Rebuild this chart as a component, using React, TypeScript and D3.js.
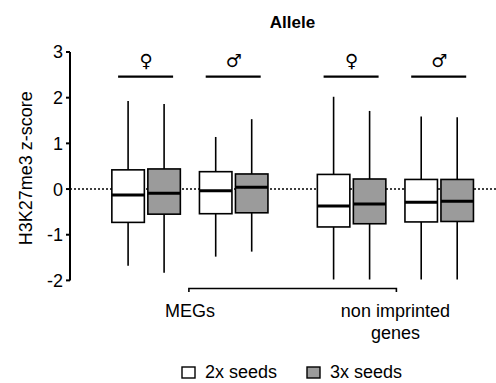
import React from "react";
import * as d3 from "d3";

const clusters = ["MEGs", "non imprinted genes"];
const alleles = ["♀", "♂"];
const seeds = ["2x seeds", "3x seeds"];
const yTicks = [3, 2, 1, 0, -1, -2];

// [cluster, allele, seed, whiskerLow, q1, median, q3, whiskerHigh]
const boxes: [string, string, string, number, number, number, number, number][] = [
  ["MEGs", "♀", "2x seeds", -1.68, -0.73, -0.13, 0.42, 1.93],
  ["MEGs", "♀", "3x seeds", -1.83, -0.55, -0.09, 0.44, 1.86],
  ["MEGs", "♂", "2x seeds", -1.48, -0.54, -0.04, 0.38, 1.14],
  ["MEGs", "♂", "3x seeds", -1.37, -0.52, 0.04, 0.33, 1.53],
  ["non imprinted genes", "♀", "2x seeds", -1.98, -0.83, -0.37, 0.32, 2.02],
  ["non imprinted genes", "♀", "3x seeds", -1.98, -0.76, -0.33, 0.22, 1.71],
  ["non imprinted genes", "♂", "2x seeds", -1.98, -0.72, -0.29, 0.21, 1.59],
  ["non imprinted genes", "♂", "3x seeds", -1.98, -0.71, -0.27, 0.21, 1.57],
];

const seedFill: Record<string, string> = { "2x seeds": "#ffffff", "3x seeds": "#9b9b9b" };

const W = 496;
const H = 383;
const FONT = "'Liberation Sans', Arial, Helvetica, sans-serif";

export default function App() {
  const y = d3.scaleLinear().domain([-2, 3]).range([280.4, 52]);
  const xCluster = d3.scalePoint<string>().domain(clusters).range([189.9, 395.4]);
  const xAllele = d3.scalePoint<string>().domain(alleles).range([-43.8, 43.8]);
  const xSeed = d3.scalePoint<string>().domain(seeds).range([-18, 18]);
  const boxW = 32.5;
  const axisX = 70;

  const cx = (c: string, a: string, s: string) => xCluster(c)! + xAllele(a)! + xSeed(s)!;

  return (
    <svg width={W} height={H} style={{ position: "absolute", left: 0, top: 0 }} fontFamily={FONT}>
      <rect width={W} height={H} fill="#fff" />
      <text x={292.5} y={28} textAnchor="middle" fontWeight="bold" fontSize={17}>
        Allele
      </text>

      {/* zero dotted line */}
      <line x1={axisX} x2={W} y1={y(0)} y2={y(0)} stroke="#000" strokeWidth={1.6} strokeDasharray="2,2" />

      {/* y axis */}
      <line x1={axisX} x2={axisX} y1={y(3)} y2={y(-2)} stroke="#000" strokeWidth={2} />
      {yTicks.map((t) => (
        <g key={t}>
          <line x1={axisX - 4} x2={axisX} y1={y(t)} y2={y(t)} stroke="#000" strokeWidth={2} />
          <text x={axisX - 7} y={y(t)} dy="0.36em" textAnchor="end" fontSize={18}>
            {t}
          </text>
        </g>
      ))}
      <text
        transform={`translate(31.5, ${(y(3) + y(-2)) / 2 + 2}) rotate(-90)`}
        textAnchor="middle"
        fontSize={18}
      >
        H3K27me3 z-score
      </text>

      {/* allele symbols and lines */}
      {clusters.map((c) =>
        alleles.map((a) => {
          const ax = xCluster(c)! + xAllele(a)!;
          return (
            <g key={c + a}>
              <line x1={ax - 28} x2={ax + 27} y1={76.7} y2={76.7} stroke="#000" strokeWidth={2.2} />
              <text x={ax} y={67} textAnchor="middle" fontSize={18} fontFamily="'DejaVu Sans', sans-serif">
                {a}
              </text>
            </g>
          );
        })
      )}

      {/* boxes */}
      {boxes.map(([c, a, s, lo, q1, med, q3, hi]) => {
        const x = cx(c, a, s);
        return (
          <g key={c + a + s}>
            <line x1={x} x2={x} y1={y(hi)} y2={y(q3)} stroke="#000" strokeWidth={1.6} />
            <line x1={x} x2={x} y1={y(q1)} y2={y(lo)} stroke="#000" strokeWidth={1.6} />
            <rect
              x={x - boxW / 2}
              y={y(q3)}
              width={boxW}
              height={y(q1) - y(q3)}
              fill={seedFill[s]}
              stroke="#000"
              strokeWidth={1.6}
            />
            <line x1={x - boxW / 2} x2={x + boxW / 2} y1={y(med)} y2={y(med)} stroke="#000" strokeWidth={3} />
          </g>
        );
      })}

      {/* bracket */}
      <path
        d={`M${xCluster(clusters[0])! - 1},292V288.5H${xCluster(clusters[1])! + 1}V292`}
        fill="none"
        stroke="#000"
        strokeWidth={1.6}
      />
      <text x={xCluster("MEGs")!} y={316.5} textAnchor="middle" fontSize={18}>
        MEGs
      </text>
      <text x={xCluster("non imprinted genes")!} y={317} textAnchor="middle" fontSize={18}>
        <tspan x={xCluster("non imprinted genes")!}>non imprinted</tspan>
        <tspan x={xCluster("non imprinted genes")!} dy={22}>
          genes
        </tspan>
      </text>

      {/* legend */}
      {seeds.map((s, i) => {
        const lx = 182 + i * 125;
        return (
          <g key={s}>
            <rect x={lx} y={367} width={13} height={11} fill={seedFill[s]} stroke="#000" strokeWidth={1.4} />
            <text x={lx + 23} y={378} fontSize={18}>
              {s}
            </text>
          </g>
        );
      })}
    </svg>
  );
}
